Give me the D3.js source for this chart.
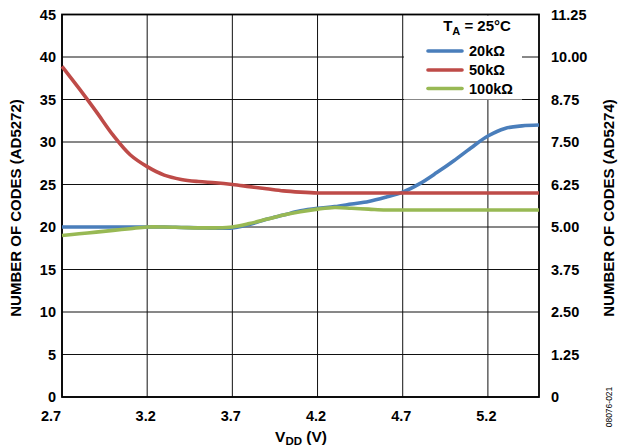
<!DOCTYPE html>
<html><head><meta charset="utf-8">
<script src="https://cdn.jsdelivr.net/npm/d3@7/dist/d3.min.js"></script>
<style>
body{margin:0;background:#fff;}
text{font-family:"Liberation Sans",Arial,Helvetica,sans-serif;font-weight:bold;fill:#000;}
</style></head><body>
<svg id="c" width="618" height="448"></svg>
<script>
const vdd = [2.7,2.8,2.9,3.0,3.1,3.2,3.3,3.4,3.5,3.6,3.7,3.8,3.9,4.0,4.1,4.2,4.3,4.4,4.5,4.6,4.7,4.8,4.9,5.0,5.1,5.2,5.3,5.4,5.5];
const codes20k = [20.0,20.0,20.0,20.0,20.0,20.0,20.0,19.95,19.9,19.85,19.9,20.3,20.9,21.4,21.9,22.2,22.4,22.7,23.0,23.5,24.1,25.1,26.4,27.8,29.3,30.7,31.6,31.9,32.0];
const codes50k = [38.9,36.3,33.6,30.8,28.5,27.1,26.1,25.6,25.35,25.2,25.0,24.75,24.5,24.25,24.1,24.0,24.0,24.0,24.0,24.0,24.0,24.0,24.0,24.0,24.0,24.0,24.0,24.0,24.0];
const codes100k = [19.0,19.2,19.4,19.6,19.8,20.0,20.0,19.95,19.9,19.9,20.0,20.4,20.9,21.4,21.8,22.1,22.3,22.2,22.1,22.0,22.0,22.0,22.0,22.0,22.0,22.0,22.0,22.0,22.0];
const seriesNames = ["20kΩ","50kΩ","100kΩ"];
const seriesColors = ["#4a7ebb","#be4b48","#98b954"];
const xTicks = [2.7,3.2,3.7,4.2,4.7,5.2];
const yLeftTicks = [0,5,10,15,20,25,30,35,40,45];
const yRightTicks = [0,1.25,2.5,3.75,5,6.25,7.5,8.75,10,11.25];

const L=62, R=539, T=14.5, B=397;
const svg = d3.select("#c");
const x = d3.scaleLinear().domain([2.7,5.5]).range([L,R]);
const yL = d3.scaleLinear().domain([0,45]).range([B,T]);
const yR = d3.scaleLinear().domain([0,11.25]).range([B,T]);

// gridlines
const g = svg.append("g");
g.selectAll("line.h").data(yLeftTicks).join("line")
  .attr("x1",L).attr("x2",R).attr("y1",d=>yL(d)).attr("y2",d=>yL(d))
  .attr("stroke","#111").attr("stroke-width",1);
g.selectAll("line.v").data(xTicks).join("line")
  .attr("x1",d=>x(d)).attr("x2",d=>x(d)).attr("y1",T).attr("y2",B)
  .attr("stroke","#111").attr("stroke-width",1);

// legend background
svg.append("rect").attr("x",404).attr("y",T+1).attr("width",118).attr("height",84).attr("fill","#fff");

// frame
svg.append("rect").attr("x",L).attr("y",T).attr("width",R-L).attr("height",B-T)
  .attr("fill","none").attr("stroke","#000").attr("stroke-width",1.8);

// lines
const line = d3.line().x(d=>x(d[0])).y(d=>yL(d[1])).curve(d3.curveCatmullRom.alpha(0.5));
[codes20k,codes50k,codes100k].forEach((s,i)=>{
  svg.append("path").datum(vdd.map((v,j)=>[v,s[j]]))
    .attr("d",line).attr("fill","none").attr("stroke",seriesColors[i])
    .attr("stroke-width",3.6).attr("stroke-linejoin","round").attr("stroke-linecap","butt");
});

// axes labels
svg.selectAll("text.yl").data(yLeftTicks).join("text")
  .attr("x",56).attr("y",d=>yL(d)+5).attr("text-anchor","end").attr("font-size",14.5).text(d=>d);
svg.selectAll("text.yr").data(yRightTicks).join("text")
  .attr("x",551).attr("y",d=>yR(d)+5).attr("text-anchor","start").attr("font-size",14.5)
  .text(d=>d===0?"0":d.toFixed(2));
svg.selectAll("text.xt").data(xTicks).join("text")
  .attr("x",(d,i)=>x(d)-(i===0?11:1.5)).attr("y",420.5).attr("text-anchor","middle").attr("font-size",14.5)
  .text(d=>d.toFixed(1));

// x title
const xt = svg.append("text").attr("x",301).attr("y",441.5).attr("text-anchor","middle").attr("font-size",15.5);
xt.append("tspan").text("V");
xt.append("tspan").attr("font-size",11.5).attr("dy",3.5).text("DD");
xt.append("tspan").attr("dy",-3.5).text(" (V)");

// y titles
svg.append("text").attr("transform","translate(21,208) rotate(-90)").attr("text-anchor","middle")
  .attr("font-size",15).text("NUMBER OF CODES (AD5272)");
svg.append("text").attr("transform","translate(614,208) rotate(-90)").attr("text-anchor","middle")
  .attr("font-size",15).text("NUMBER OF CODES (AD5274)");
svg.append("text").attr("transform","translate(612,407) rotate(-90)").attr("text-anchor","middle")
  .attr("font-size",8.5).style("font-weight","normal").text("08076-021");

// legend
const lt = svg.append("text").attr("x",477).attr("y",31).attr("text-anchor","middle").attr("font-size",15);
lt.append("tspan").text("T");
lt.append("tspan").attr("font-size",11).attr("dy",3.5).text("A");
lt.append("tspan").attr("dy",-3.5).text(" = 25°C");
const ly = [51,70,88.5];
seriesNames.forEach((n,i)=>{
  svg.append("line").attr("x1",428).attr("x2",462).attr("y1",ly[i]).attr("y2",ly[i])
    .attr("stroke",seriesColors[i]).attr("stroke-width",3.6).attr("stroke-linecap","round");
  svg.append("text").attr("x",469).attr("y",ly[i]+5).attr("font-size",14.5).text(n);
});
</script></body></html>
